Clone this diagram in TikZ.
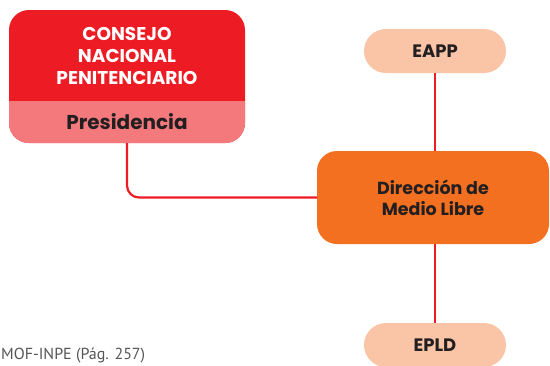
\documentclass[tikz,border=0pt]{standalone}
\usepackage{fontspec}
\setmainfont{Poppins}
\newfontfamily\capfont{PT Sans}
\definecolor{cred}{HTML}{ED1C24}
\definecolor{cpink}{HTML}{F4797C}
\definecolor{corange}{HTML}{F37021}
\definecolor{cpeach}{HTML}{F9C5A6}
\definecolor{ctext}{HTML}{231F20}
\definecolor{cgray}{HTML}{555555}
\tikzset{
  link/.style={draw=cred, line width=2.2pt},
  pill/.style={fill=cpeach, rounded corners=22pt, minimum width=142pt, minimum height=44pt, inner sep=0pt,
    text=ctext, font=\bfseries\fontsize{18}{20}\selectfont},
  dirbox/.style={fill=corange, rounded corners=20pt, minimum width=232pt, minimum height=93pt, inner sep=0pt,
    text=ctext, align=center, font=\bfseries\fontsize{17.5}{21}\selectfont},
  cnpbox/.style={fill=cred, rounded corners=20pt, minimum width=236pt, minimum height=133pt, inner sep=0pt,
    path picture={\fill[cpink, sharp corners] (path picture bounding box.south west) rectangle ([yshift=42.5pt]path picture bounding box.south east);}},
  whitetext/.style={text=white, align=center, font=\bfseries\fontsize{18.5}{22}\selectfont},
  darktext/.style={text=ctext, font=\bfseries\fontsize{20}{22}\selectfont},
}
\begin{document}
\begin{tikzpicture}[x=1pt,y=-1pt]
\useasboundingbox (0,0) rectangle (550,365);
\node[cnpbox] (cnp) at (127,76.5) {};
\node[whitetext] (cnptxt) at (127,55.5) {CONSEJO\\NACIONAL\\PENITENCIARIO};
\node[darktext] (pres) at (127,121.5) {Presidencia};
\node[pill] (eapp) at (435,51) {EAPP};
\node[dirbox] (dml) at (433,197.5) {Dirección de\\Medio Libre};
\node[pill] (epld) at (435,345) {EPLD};
\draw[link, rounded corners=12pt] (cnp.south) |- (dml.west);
\draw[link] (eapp.south) -- (eapp.south |- dml.north);
\draw[link] (dml.south -| epld.north) -- (epld.north);
\node[anchor=west, inner sep=0pt, text=cgray, font=\capfont\fontsize{16}{18}\selectfont] (src) at (1,355) {MOF-INPE (Pág. 257)};
\end{tikzpicture}
\end{document}
